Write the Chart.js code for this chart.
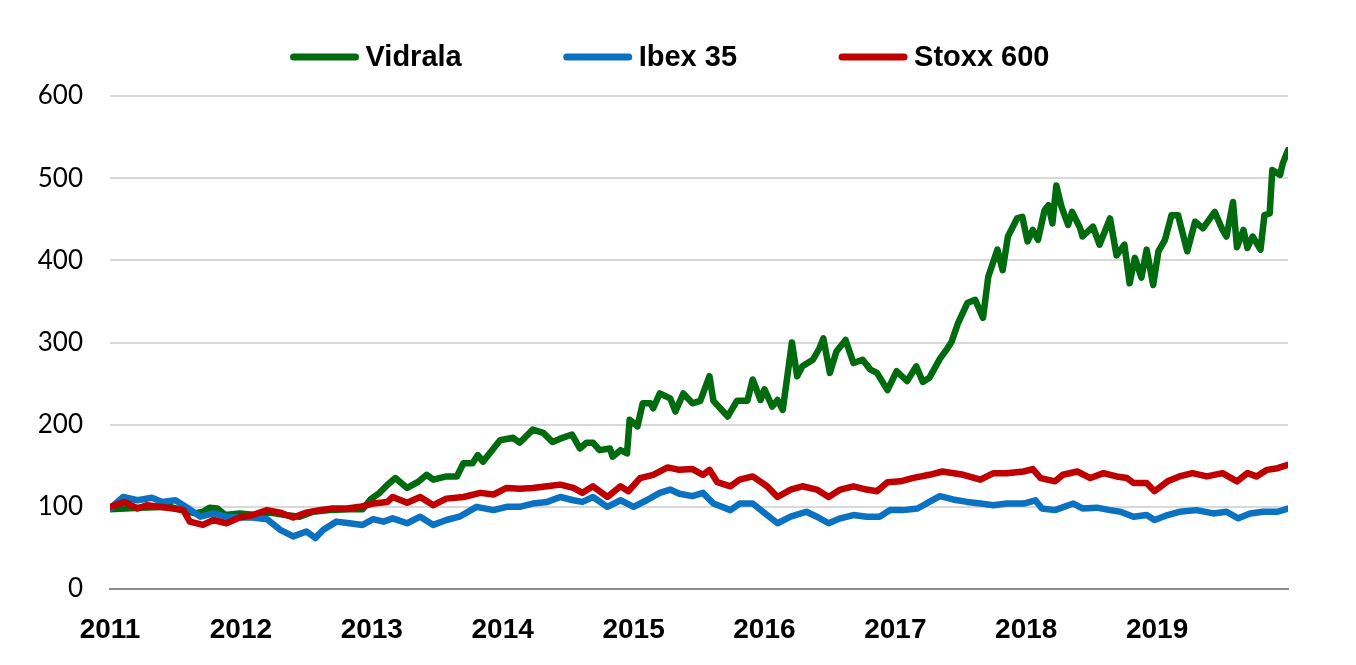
<!DOCTYPE html>
<html>
<head>
<meta charset="utf-8">
<script src="https://cdn.jsdelivr.net/npm/chart.js@4.4.1/dist/chart.umd.min.js"></script>
<style>
    html, body { margin: 0; padding: 0; background: #fff; }
    #wrap { width: 1356px; height: 665px; }
</style>
</head>
<body>
<div id="wrap"><canvas id="perfChart" width="1356" height="665"></canvas></div>
<script>
// Series (decimal years, base 100 at start of 2011)
const vidralaDates = [2011.00, 2011.23, 2011.46, 2011.57, 2011.65, 2011.71, 2011.76, 2011.82, 2011.88, 2011.99,
    2012.11, 2012.22, 2012.34, 2012.45, 2012.55, 2012.68, 2012.83, 2012.93, 2012.99,
    2013.06, 2013.12, 2013.18, 2013.27, 2013.35, 2013.42, 2013.47, 2013.57, 2013.65, 2013.70, 2013.77, 2013.81, 2013.85, 2013.93, 2013.98,
    2014.08, 2014.13, 2014.23, 2014.31, 2014.38, 2014.44, 2014.53, 2014.59, 2014.64, 2014.69, 2014.74, 2014.82, 2014.84, 2014.90, 2014.95, 2014.97,
    2015.03, 2015.07, 2015.13, 2015.15, 2015.20, 2015.28, 2015.32, 2015.38, 2015.45, 2015.51, 2015.58, 2015.61, 2015.72, 2015.79, 2015.87, 2015.91, 2015.97,
    2016.00, 2016.06, 2016.10, 2016.14, 2016.21, 2016.25, 2016.29, 2016.37, 2016.42, 2016.45, 2016.50, 2016.55, 2016.62, 2016.68, 2016.75, 2016.81, 2016.86, 2016.94,
    2017.01, 2017.09, 2017.16, 2017.21, 2017.26, 2017.34, 2017.39, 2017.43, 2017.48, 2017.55, 2017.61, 2017.67, 2017.71, 2017.78, 2017.82, 2017.86, 2017.93, 2017.97,
    2018.01, 2018.05, 2018.09, 2018.14, 2018.17, 2018.20, 2018.23, 2018.27, 2018.32, 2018.35, 2018.41, 2018.43, 2018.51, 2018.56, 2018.64, 2018.69, 2018.75, 2018.79, 2018.83, 2018.88, 2018.92, 2018.97,
    2019.01, 2019.06, 2019.11, 2019.16, 2019.23, 2019.29, 2019.35, 2019.44, 2019.50, 2019.53, 2019.58, 2019.61, 2019.66, 2019.69, 2019.73, 2019.79, 2019.82, 2019.86, 2019.88, 2019.94, 2019.96, 2020.00];
const vidralaValues = [97, 99, 100, 95, 92, 94, 99, 98, 90, 92,
    90, 93, 90, 88, 94, 96, 97, 97, 109,
    117, 127, 135, 123, 130, 139, 133, 137, 137, 153, 153, 163, 155, 171, 181,
    184, 178, 194, 190, 179, 183, 188, 171, 178, 178, 169, 171, 161, 169, 165, 206,
    198, 226, 226, 220, 238, 232, 216, 238, 226, 229, 259, 229, 210, 229, 229, 255, 230,
    243, 222, 230, 218, 300, 259, 271, 279, 293, 305, 263, 289, 303, 275, 279, 267, 263, 242,
    265, 253, 271, 252, 257, 280, 291, 301, 324, 348, 352, 330, 380, 413, 388, 429, 451, 453,
    423, 437, 425, 461, 467, 445, 491, 465, 443, 459, 440, 429, 441, 419, 451, 406, 419, 372, 403, 379, 413, 370,
    411, 425, 455, 455, 411, 447, 439, 459, 437, 429, 471, 416, 437, 415, 429, 413, 455, 457, 510, 504, 518, 534];

const ibexDates = [2011.00, 2011.10, 2011.21, 2011.32, 2011.40, 2011.50, 2011.59, 2011.69, 2011.79, 2011.89, 2011.99,
    2012.09, 2012.20, 2012.30, 2012.40, 2012.50, 2012.57, 2012.63, 2012.73, 2012.83, 2012.93,
    2013.01, 2013.09, 2013.16, 2013.27, 2013.37, 2013.47, 2013.57, 2013.67, 2013.80, 2013.93,
    2014.03, 2014.13, 2014.23, 2014.34, 2014.44, 2014.54, 2014.61, 2014.69, 2014.80, 2014.90,
    2015.00, 2015.10, 2015.20, 2015.28, 2015.35, 2015.45, 2015.53, 2015.61, 2015.74, 2015.81, 2015.91,
    2016.02, 2016.10, 2016.20, 2016.32, 2016.40, 2016.49, 2016.58, 2016.68, 2016.78, 2016.88, 2016.96,
    2017.06, 2017.17, 2017.26, 2017.34, 2017.44, 2017.55, 2017.65, 2017.75, 2017.85, 2017.98,
    2018.07, 2018.12, 2018.22, 2018.36, 2018.43, 2018.54, 2018.64, 2018.72, 2018.82, 2018.92, 2018.98,
    2019.08, 2019.17, 2019.30, 2019.43, 2019.53, 2019.62, 2019.71, 2019.81, 2019.92, 2020.00];
const ibexValues = [98, 112, 108, 111, 106, 108, 99, 88, 92, 88, 87,
    87, 85, 72, 64, 70, 62, 72, 82, 80, 78,
    85, 82, 86, 80, 88, 78, 84, 88, 100, 96,
    100, 100, 104, 106, 112, 108, 106, 112, 100, 108,
    100, 108, 117, 121, 116, 113, 117, 104, 96, 104, 104,
    90, 80, 88, 94, 88, 80, 86, 90, 88, 88, 96,
    96, 98, 106, 113, 109, 106, 104, 102, 104, 104,
    108, 98, 96, 104, 98, 99, 96, 94, 88, 90, 84,
    90, 94, 96, 92, 94, 86, 92, 94, 94, 98];

const stoxxDates = [2011.00, 2011.11, 2011.21, 2011.28, 2011.38, 2011.48, 2011.56, 2011.61, 2011.71, 2011.79, 2011.89, 2011.99,
    2012.09, 2012.20, 2012.30, 2012.40, 2012.50, 2012.60, 2012.70, 2012.81, 2012.91,
    2013.01, 2013.12, 2013.16, 2013.27, 2013.37, 2013.47, 2013.57, 2013.70, 2013.83, 2013.93,
    2014.03, 2014.13, 2014.23, 2014.34, 2014.44, 2014.54, 2014.61, 2014.69, 2014.80, 2014.90, 2014.96,
    2015.05, 2015.15, 2015.26, 2015.35, 2015.45, 2015.53, 2015.58, 2015.64, 2015.74, 2015.81, 2015.91,
    2016.02, 2016.10, 2016.20, 2016.29, 2016.40, 2016.49, 2016.58, 2016.68, 2016.78, 2016.86, 2016.94,
    2017.04, 2017.13, 2017.26, 2017.36, 2017.52, 2017.65, 2017.75, 2017.85, 2017.98,
    2018.05, 2018.11, 2018.22, 2018.28, 2018.39, 2018.49, 2018.59, 2018.69, 2018.77, 2018.82, 2018.92, 2018.98,
    2019.08, 2019.17, 2019.27, 2019.38, 2019.50, 2019.61, 2019.69, 2019.76, 2019.84, 2019.92, 2020.00];
const stoxxValues = [100, 106, 98, 102, 100, 98, 96, 82, 78, 84, 80, 87,
    90, 96, 93, 87, 93, 96, 98, 98, 100,
    104, 106, 112, 105, 112, 102, 110, 112, 117, 115,
    123, 122, 123, 125, 127, 123, 117, 125, 112, 125, 119,
    135, 139, 148, 145, 146, 139, 145, 130, 125, 133, 137,
    125, 112, 121, 125, 121, 112, 121, 125, 121, 119, 130,
    131, 135, 139, 143, 139, 133, 141, 141, 143,
    146, 135, 131, 139, 143, 135, 141, 137, 135, 129, 129, 119,
    131, 137, 141, 137, 141, 131, 141, 137, 145, 147, 151];

const yearTicks = [2011, 2012, 2013, 2014, 2015, 2016, 2017, 2018, 2019];
const seriesNames = ['Vidrala', 'Ibex 35', 'Stoxx 600'];
const seriesColors = ['#006a0e', '#0b72c2', '#c00000'];

function toPoints(dates, values) {
    return dates.map((d, i) => ({ x: d, y: values[i] }));
}

// Legend drawn by hand: thick line sample followed by bold label
const legendPlugin = {
    id: 'lineLegend',
    afterDraw(chart) {
        const ctx = chart.ctx;
        const sampleW = 68, gap = 7, spacing = 102, y = 57;
        ctx.save();
        ctx.font = 'bold 29px "Liberation Sans", Arial, sans-serif';
        ctx.textBaseline = 'middle';
        let total = 0;
        seriesNames.forEach((n, i) => {
            total += sampleW + gap + ctx.measureText(n).width;
            if (i > 0) total += spacing;
        });
        let x = chart.width / 2 - 8 - total / 2;
        seriesNames.forEach((n, i) => {
            ctx.strokeStyle = seriesColors[i];
            ctx.lineWidth = 7;
            ctx.lineCap = 'round';
            ctx.beginPath();
            ctx.moveTo(x + 3, y);
            ctx.lineTo(x + sampleW - 3, y);
            ctx.stroke();
            ctx.fillStyle = '#000';
            ctx.fillText(n, x + sampleW + gap, y + 1);
            x += sampleW + gap + ctx.measureText(n).width + spacing;
        });
        ctx.restore();
    }
};

const lineStyle = {
    borderWidth: 6.5,
    pointRadius: 0,
    tension: 0,
    borderJoinStyle: 'round',
    borderCapStyle: 'round',
    fill: false
};

const perfChart = new Chart(document.getElementById('perfChart'), {
    type: 'line',
    data: {
        datasets: [
            { label: seriesNames[0], data: toPoints(vidralaDates, vidralaValues), borderColor: seriesColors[0], order: 2, ...lineStyle },
            { label: seriesNames[1], data: toPoints(ibexDates, ibexValues), borderColor: seriesColors[1], order: 1, ...lineStyle },
            { label: seriesNames[2], data: toPoints(stoxxDates, stoxxValues), borderColor: seriesColors[2], order: 0, ...lineStyle }
        ]
    },
    options: {
        responsive: false,
        animation: false,
        layout: { padding: { top: 96, right: 68, left: 0, bottom: 0 } },
        plugins: {
            legend: { display: false },
            tooltip: { enabled: false }
        },
        scales: {
            x: {
                type: 'linear',
                min: 2011,
                max: 2020,
                afterBuildTicks: (scale) => { scale.ticks = yearTicks.map(v => ({ value: v })); },
                afterFit: (scale) => { scale.height = 76; },
                ticks: {
                    autoSkip: false,
                    maxRotation: 0,
                    padding: 24,
                    color: '#000',
                    font: { family: '"Liberation Sans", Arial, sans-serif', size: 28, weight: 'bold' },
                    callback: (v) => String(v)
                },
                grid: { display: false, drawTicks: false },
                border: { display: true, color: '#8c8c8c', width: 2 }
            },
            y: {
                min: 0,
                max: 600,
                afterFit: (scale) => { scale.width = 110; },
                ticks: {
                    stepSize: 100,
                    padding: 27,
                    color: '#000',
                    font: { family: 'Lato, "Open Sans", sans-serif', size: 26 }
                },
                grid: {
                    color: (c) => c.tick && c.tick.value === 0 ? 'rgba(0,0,0,0)' : '#d9d9d9',
                    lineWidth: 2,
                    drawTicks: false
                },
                border: { display: false }
            }
        }
    },
    plugins: [legendPlugin]
});
</script>
</body>
</html>
